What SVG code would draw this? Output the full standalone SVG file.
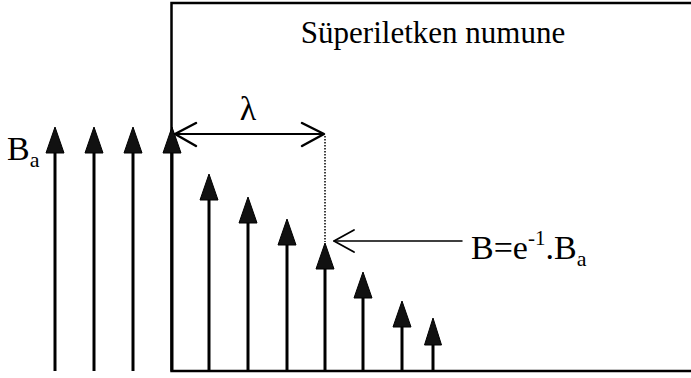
<svg xmlns="http://www.w3.org/2000/svg" width="691" height="378" viewBox="0 0 691 378">
<style>
.shaft{stroke:#000;stroke-width:3;fill:none}
.head{fill:#111;stroke:#000;stroke-width:1;stroke-linejoin:round}
.box{stroke:#000;stroke-width:2.5;fill:none}
.open{stroke:#000;fill:none;stroke-linecap:round;stroke-linejoin:round}
.t{font-family:'Liberation Serif','Times New Roman',serif;fill:#000}
</style>
<rect width="691" height="378" fill="#fff"/>
<g id="sample">
<polyline class="box" points="691,3 171.5,3 171.5,371 691,371"/>
<text class="t" x="433" y="43" font-size="31" text-anchor="middle">Süperiletken numune</text>
</g>
<g id="field-arrows">
<g id="a1"><line class="shaft" x1="55" y1="150" x2="55" y2="371"/><polygon class="head" points="55,127 46,153 64,153"/></g>
<g id="a2"><line class="shaft" x1="94" y1="150" x2="94" y2="371"/><polygon class="head" points="94,127 85,153 103,153"/></g>
<g id="a3"><line class="shaft" x1="133" y1="150" x2="133" y2="371"/><polygon class="head" points="133,127 124,153 142,153"/></g>
<g id="a4"><line class="shaft" x1="172" y1="150" x2="172" y2="371"/><polygon class="head" points="172,127 163,153 181,153"/></g>
<g id="a5"><line class="shaft" x1="209" y1="197" x2="209" y2="371"/><polygon class="head" points="209,174 200,200 218,200"/></g>
<g id="a6"><line class="shaft" x1="248" y1="220" x2="248" y2="371"/><polygon class="head" points="248,197 239,223 257,223"/></g>
<g id="a7"><line class="shaft" x1="287" y1="242" x2="287" y2="371"/><polygon class="head" points="287,219 278,245 296,245"/></g>
<g id="a8"><line class="shaft" x1="325" y1="266" x2="325" y2="371"/><polygon class="head" points="325,243 316,269 334,269"/></g>
<g id="a9"><line class="shaft" x1="363" y1="295" x2="363" y2="371"/><polygon class="head" points="363,272 354,298 372,298"/></g>
<g id="a10"><line class="shaft" x1="402" y1="324" x2="402" y2="371"/><polygon class="head" points="402,301 393,327 411,327"/></g>
<g id="a11"><line class="shaft" x1="433" y1="342" x2="433" y2="371"/><polygon class="head" points="433,318 424.5,345 441.5,345"/></g>
</g>
<g id="connectors">
<line class="open" x1="175" y1="134" x2="323" y2="134" stroke-width="2"/>
<polyline class="open" points="196,123 175,134 196,146" stroke-width="2.5"/>
<polyline class="open" points="302,123 324,134 302,146" stroke-width="2.5"/>
<line x1="325" y1="136" x2="325" y2="242" stroke="#000" stroke-width="1.5" stroke-dasharray="1.5 1.5"/>
<line class="open" x1="334" y1="241" x2="462" y2="241" stroke-width="1.5"/>
<polyline class="open" points="354,230 334,241 354,252" stroke-width="1.8"/>
</g>
<g id="labels">
<text class="t" x="7" y="160" font-size="34">B<tspan font-size="22" dy="7">a</tspan></text>
<text class="t" x="248" y="120" font-size="34" text-anchor="middle">λ</text>
<text class="t" x="471" y="259" font-size="34">B=e<tspan font-size="21" dy="-14">-1</tspan><tspan dy="14">.B</tspan><tspan font-size="22" dy="7">a</tspan></text>
</g>
</svg>
